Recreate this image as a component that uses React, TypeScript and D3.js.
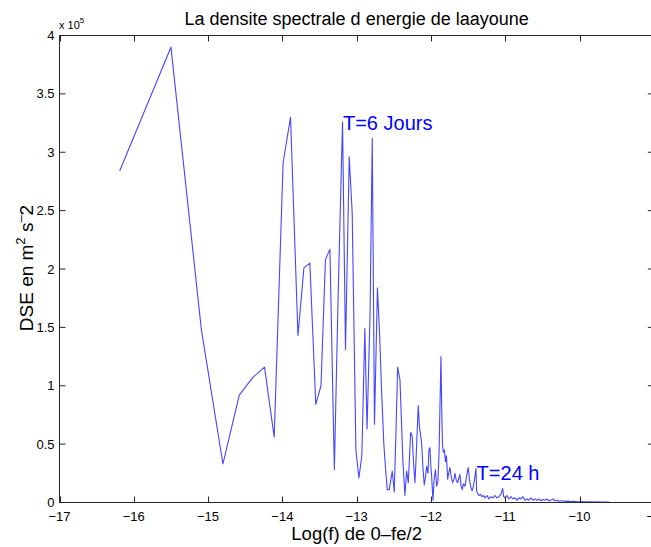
import React from "react";
import * as d3 from "d3";

// log of frequency (natural log), from 0 to fe/2
const logF = [
  -16.19, -15.50, -15.09, -14.80, -14.58, -14.40, -14.24, -14.11, -13.99, -13.89,
  -13.79, -13.71, -13.63, -13.55, -13.48, -13.42, -13.36, -13.30, -13.25, -13.19,
  -13.15, -13.10, -13.06, -13.01, -12.97, -12.93, -12.89, -12.86, -12.82, -12.79,
  -12.76, -12.72, -12.69,
  -12.664, -12.634, -12.612, -12.588, -12.561, -12.538, -12.521, -12.494, -12.471, -12.448,
  -12.417, -12.397, -12.377, -12.350, -12.327, -12.305, -12.273, -12.252, -12.235, -12.215,
  -12.195, -12.171, -12.155, -12.125, -12.108, -12.090, -12.074, -12.058, -12.040, -12.027,
  -12.013, -12.000, -11.991, -11.973, -11.957, -11.939, -11.923, -11.906, -11.890, -11.876,
  -11.865, -11.855, -11.845, -11.834, -11.818, -11.805, -11.791, -11.775, -11.758, -11.744,
  -11.727, -11.708, -11.690, -11.677, -11.659, -11.641, -11.623, -11.610, -11.594, -11.579,
  -11.563, -11.542, -11.522, -11.498, -11.482, -11.462, -11.446, -11.428, -11.408, -11.394,
  -11.385, -11.374, -11.354, -11.334, -11.314, -11.293, -11.273, -11.246, -11.219, -11.193,
  -11.166, -11.139, -11.112, -11.085, -11.058, -11.035, -11.020, -11.004,
  -10.977, -10.950, -10.923, -10.896, -10.869, -10.842, -10.815, -10.789, -10.762, -10.735,
  -10.708, -10.681, -10.654, -10.627, -10.600, -10.573, -10.546, -10.519, -10.492, -10.465,
  -10.438, -10.411, -10.385, -10.358, -10.331, -10.304, -10.277,
  -10.236, -10.196, -10.156, -10.115, -10.075, -10.035, -9.994, -9.954, -9.913, -9.873,
  -9.833, -9.792, -9.752, -9.712, -9.671, -9.631, -9.590,
];

// DSE values in units of 1e5 m^2 s^-2
const dse = [
  2.84, 3.90, 1.48, 0.33, 0.92, 1.07, 1.16, 0.56, 2.91, 3.30,
  1.43, 2.01, 2.05, 0.84, 1.00, 2.08, 2.17, 0.28, 1.75, 3.26,
  1.31, 2.96, 2.48, 0.45, 0.21, 0.40, 1.49, 0.63, 1.60, 3.12,
  0.67, 1.84, 1.42,
  0.95, 0.50, 0.30, 0.11, 0.11, 0.20, 0.27, 0.09, 0.60, 1.16,
  1.05, 0.70, 0.35, 0.06, 0.27, 0.17, 0.60, 0.57, 0.35, 0.17,
  0.45, 0.83, 0.65, 0.51, 0.30, 0.15, 0.22, 0.31, 0.25, 0.45,
  0.47, 0.30, 0.23, 0.02, 0.20, 0.28, 0.14, 0.18, 0.45, 0.90,
  1.25, 0.80, 0.50, 0.43, 0.45, 0.35, 0.40, 0.20, 0.26, 0.30,
  0.22, 0.17, 0.20, 0.25, 0.19, 0.17, 0.21, 0.24, 0.14, 0.11,
  0.16, 0.14, 0.22, 0.30, 0.20, 0.13, 0.10, 0.14, 0.22, 0.29,
  0.10, 0.08, 0.06, 0.07, 0.05, 0.06, 0.04, 0.06, 0.03, 0.05,
  0.04, 0.06, 0.04, 0.05, 0.07, 0.12, 0.05, 0.04,
  0.06, 0.03, 0.05, 0.03, 0.04, 0.02, 0.04, 0.03, 0.05, 0.02,
  0.03, 0.02, 0.04, 0.02, 0.03, 0.02, 0.03, 0.015, 0.025, 0.02,
  0.03, 0.015, 0.02, 0.03, 0.015, 0.02, 0.01,
  0.015, 0.01, 0.012, 0.008, 0.01, 0.006, 0.009, 0.005, 0.007, 0.005,
  0.006, 0.004, 0.005, 0.003, 0.004, 0.003, 0.002,
];

const xTicks = [-17, -16, -15, -14, -13, -12, -11, -10, -9];
const yTicks = [0, 0.5, 1, 1.5, 2, 2.5, 3, 3.5, 4];

const titleText = "La densite spectrale d energie de laayoune";
const xLabelText = "Log(f) de 0\u2013fe/2";
const note6j = "T=6 Jours";
const note24h = "T=24 h";

const FONT = "'Liberation Sans', Arial, Helvetica, sans-serif";

export default function App() {
  const W = 651;
  const H = 547;
  const left = 59.5;
  const right = 653.8;
  const top = 35.5;
  const bottom = 502.5;
  const x = d3.scaleLinear().domain([-17, -9]).range([left, right]);
  const y = d3.scaleLinear().domain([0, 4]).range([bottom, top]);
  const pts = logF.map((f, i) => [f, dse[i]] as [number, number]);
  const line = d3
    .line<[number, number]>()
    .x((d) => x(d[0]))
    .y((d) => y(d[1]));
  const tl = 6;
  const fmt = (v: number) => (v < 0 ? "\u2212" + Math.abs(v) : String(v));
  const axisColor = "#262626";

  return (
    <svg
      width={W}
      height={H}
      style={{ position: "fixed", left: 0, top: 0, background: "#fff" }}
      fontFamily={FONT}
    >
      <rect x={0} y={0} width={W} height={H} fill="#fff" />
      <path d={line(pts) || ""} fill="none" stroke="#4646ff" strokeWidth={1.1} strokeLinejoin="round" />
      {/* axes box */}
      <line x1={left} x2={left} y1={top} y2={bottom} stroke={axisColor} strokeWidth={1} />
      <line x1={left} x2={right} y1={bottom} y2={bottom} stroke={axisColor} strokeWidth={1} />
      <line x1={left} x2={right} y1={top} y2={top} stroke={axisColor} strokeWidth={1} />
      <line x1={right} x2={right} y1={top} y2={bottom} stroke={axisColor} strokeWidth={1} />
      {xTicks.map((t) => (
        <g key={"xt" + t}>
          <line x1={Math.round(x(t)) + 0.5} x2={Math.round(x(t)) + 0.5} y1={bottom} y2={bottom - tl} stroke={axisColor} />
          <line x1={Math.round(x(t)) + 0.5} x2={Math.round(x(t)) + 0.5} y1={top} y2={top + tl} stroke={axisColor} />
          <text x={x(t)} y={521} fontSize={13} textAnchor="middle" fill="#000">
            {fmt(t)}
          </text>
        </g>
      ))}
      {yTicks.map((t) => (
        <g key={"yt" + t}>
          <line x1={left} x2={left + tl} y1={y(t)} y2={y(t)} stroke={axisColor} />
          <line x1={right} x2={right - tl} y1={y(t)} y2={y(t)} stroke={axisColor} />
          <text x={54.5} y={y(t)} fontSize={13} textAnchor="end" dominantBaseline="central" fill="#000">
            {String(t)}
          </text>
        </g>
      ))}
      {/* exponent */}
      <text x={59} y={29} fontSize={11} fill="#000">
        x 10
        <tspan dy={-6} fontSize={8}>5</tspan>
      </text>
      {/* title */}
      <text x={(left + right) / 2} y={25} fontSize={18} textAnchor="middle" fill="#000">
        {titleText}
      </text>
      {/* x label */}
      <text x={(left + right) / 2} y={540} fontSize={18.5} textAnchor="middle" fill="#000">
        {xLabelText}
      </text>
      {/* y label */}
      <text transform="translate(33,268) rotate(-90)" fontSize={19} textAnchor="middle" fill="#000">
        DSE en m
        <tspan dy={-8} fontSize={13}>2</tspan>
        <tspan dy={8}> s</tspan>
        <tspan dy={-8} fontSize={13}>{"\u2013"}</tspan>
        <tspan dy={8}>2</tspan>
      </text>
      {/* annotations */}
      <text x={x(-13.184)} y={y(3.19)} fontSize={20} fill="#0000ff">
        {note6j}
      </text>
      <text x={x(-11.385)} y={y(0.193)} fontSize={20} fill="#0000ff">
        {note24h}
      </text>
    </svg>
  );
}
